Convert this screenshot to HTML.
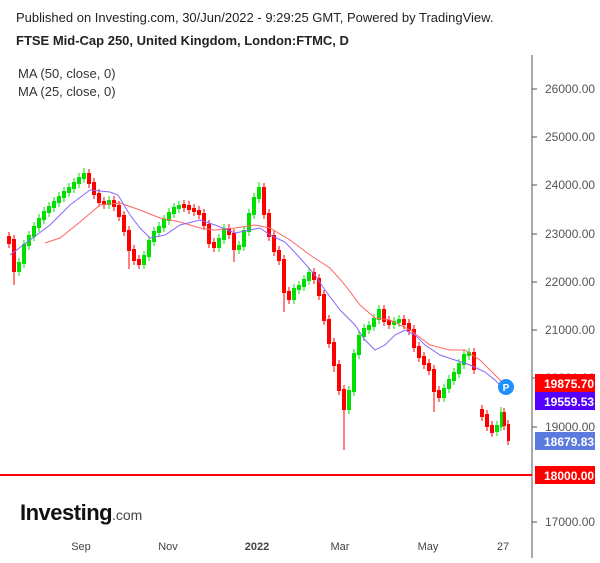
<!DOCTYPE html>
<html><head><meta charset="utf-8"><style>
body{margin:0;background:#fff;font-family:"Liberation Sans",sans-serif;}
</style></head><body>
<svg width="600" height="558" xmlns="http://www.w3.org/2000/svg" font-family="Liberation Sans, sans-serif">
<rect width="600" height="558" fill="#fff"/>
<text x="16" y="22" font-size="13" fill="#222">Published on Investing.com, 30/Jun/2022 - 9:29:25 GMT, Powered by TradingView.</text>
<text x="16" y="45" font-size="13" font-weight="bold" fill="#222">FTSE Mid-Cap 250, United Kingdom, London:FTMC, D</text>
<text x="18" y="78" font-size="13" fill="#333">MA (50, close, 0)</text>
<text x="18" y="96" font-size="13" fill="#333">MA (25, close, 0)</text>
<line x1="532" y1="55" x2="532" y2="558" stroke="#555" stroke-width="1"/>
<g font-size="12" fill="#555">
<text x="545" y="93">26000.00</text><text x="545" y="141">25000.00</text><text x="545" y="189">24000.00</text><text x="545" y="238">23000.00</text><text x="545" y="286">22000.00</text><text x="545" y="334">21000.00</text><text x="545" y="382">20000.00</text><text x="545" y="431">19000.00</text><text x="545" y="526">17000.00</text>
</g>
<path stroke="#555" d="M532 89h5M532 137h5M532 185h5M532 234h5M532 282h5M532 330h5M532 378h5M532 427h5M532 522h5"/>
<g fill="#f00">
<rect x="7" y="236" width="4" height="8"/><rect x="12" y="239" width="4" height="33"/><rect x="87" y="173" width="4" height="11"/><rect x="92" y="182" width="4" height="13"/><rect x="97" y="193" width="4" height="10"/><rect x="102" y="201" width="4" height="4"/><rect x="112" y="200" width="4" height="7"/><rect x="117" y="205" width="4" height="12"/><rect x="122" y="215" width="4" height="17"/><rect x="127" y="230" width="4" height="21"/><rect x="132" y="249" width="4" height="12"/><rect x="137" y="259" width="4" height="6"/><rect x="182" y="204" width="4" height="4"/><rect x="187" y="205" width="4" height="5"/><rect x="192" y="208" width="4" height="4"/><rect x="197" y="210" width="4" height="5"/><rect x="202" y="213" width="4" height="13"/><rect x="207" y="224" width="4" height="20"/><rect x="212" y="242" width="4" height="6"/><rect x="227" y="228" width="4" height="7"/><rect x="232" y="233" width="4" height="17"/><rect x="262" y="187" width="4" height="28"/><rect x="267" y="213" width="4" height="24"/><rect x="272" y="235" width="4" height="17"/><rect x="277" y="250" width="4" height="11"/><rect x="282" y="259" width="4" height="34"/><rect x="287" y="291" width="4" height="9"/><rect x="312" y="272" width="4" height="8"/><rect x="317" y="278" width="4" height="18"/><rect x="322" y="294" width="4" height="27"/><rect x="327" y="319" width="4" height="25"/><rect x="332" y="342" width="4" height="24"/><rect x="337" y="364" width="4" height="27"/><rect x="342" y="389" width="4" height="21"/><rect x="382" y="309" width="4" height="13"/><rect x="387" y="320" width="4" height="5"/><rect x="402" y="319" width="4" height="6"/><rect x="407" y="323" width="4" height="8"/><rect x="412" y="329" width="4" height="19"/><rect x="417" y="346" width="4" height="12"/><rect x="422" y="356" width="4" height="9"/><rect x="427" y="363" width="4" height="8"/><rect x="432" y="369" width="4" height="23"/><rect x="437" y="390" width="4" height="8"/><rect x="472" y="352" width="4" height="18"/><rect x="480" y="409" width="4" height="8"/><rect x="485" y="414" width="4" height="13"/><rect x="490" y="425" width="4" height="8"/><rect x="503" y="412" width="3" height="14"/><rect x="507" y="424" width="3" height="17"/>
</g>
<path fill="none" stroke="#f00" stroke-width="1" d="M9 232V248M14 235V285M89 169V188M94 178V199M99 189V207M104 197V209M114 196V211M119 201V221M124 211V236M129 226V269M134 245V265M139 255V269M184 200V212M189 201V214M194 204V216M199 206V219M204 209V230M209 220V248M214 238V252M229 224V239M234 229V262M264 183V219M269 209V241M274 231V256M279 246V265M284 255V312M289 287V304M314 268V284M319 274V300M324 290V325M329 315V348M334 338V372M339 360V395M344 385V450M384 305V326M389 316V329M404 315V329M409 319V335M414 325V352M419 342V362M424 352V369M429 359V375M434 365V412M439 386V402M474 348V374M482 405V421M487 410V431M492 421V437M504 408V430M508 420V445"/>
<g fill="#00e000">
<rect x="17" y="262" width="4" height="10"/><rect x="22" y="244" width="4" height="20"/><rect x="27" y="235" width="4" height="11"/><rect x="32" y="226" width="4" height="11"/><rect x="37" y="218" width="4" height="10"/><rect x="42" y="211" width="4" height="9"/><rect x="47" y="206" width="4" height="7"/><rect x="52" y="201" width="4" height="7"/><rect x="57" y="196" width="4" height="7"/><rect x="62" y="191" width="4" height="7"/><rect x="67" y="187" width="4" height="6"/><rect x="72" y="182" width="4" height="7"/><rect x="77" y="177" width="4" height="7"/><rect x="82" y="173" width="4" height="6"/><rect x="107" y="200" width="4" height="5"/><rect x="142" y="255" width="4" height="10"/><rect x="147" y="240" width="4" height="17"/><rect x="152" y="231" width="4" height="11"/><rect x="157" y="226" width="4" height="7"/><rect x="162" y="219" width="4" height="9"/><rect x="167" y="212" width="4" height="9"/><rect x="172" y="207" width="4" height="7"/><rect x="177" y="205" width="4" height="4"/><rect x="217" y="238" width="4" height="10"/><rect x="222" y="228" width="4" height="12"/><rect x="237" y="245" width="4" height="5"/><rect x="242" y="230" width="4" height="17"/><rect x="247" y="213" width="4" height="19"/><rect x="252" y="197" width="4" height="18"/><rect x="257" y="187" width="4" height="12"/><rect x="292" y="288" width="4" height="12"/><rect x="297" y="285" width="4" height="5"/><rect x="302" y="279" width="4" height="8"/><rect x="307" y="272" width="4" height="9"/><rect x="347" y="390" width="4" height="20"/><rect x="352" y="353" width="4" height="39"/><rect x="357" y="335" width="4" height="20"/><rect x="362" y="328" width="4" height="9"/><rect x="367" y="325" width="4" height="5"/><rect x="372" y="318" width="4" height="9"/><rect x="377" y="309" width="4" height="11"/><rect x="392" y="321" width="4" height="4"/><rect x="397" y="319" width="4" height="4"/><rect x="442" y="388" width="4" height="10"/><rect x="447" y="379" width="4" height="10"/><rect x="452" y="372" width="4" height="9"/><rect x="457" y="363" width="4" height="11"/><rect x="462" y="354" width="4" height="11"/><rect x="467" y="352" width="4" height="4"/><rect x="495" y="425" width="4" height="7"/><rect x="500" y="412" width="3" height="15"/>
</g>
<path fill="none" stroke="#00e000" stroke-width="1" d="M19 258V276M24 240V268M29 231V250M34 222V241M39 214V232M44 207V224M49 202V217M54 197V212M59 192V207M64 187V202M69 183V197M74 178V193M79 173V188M84 168V183M109 196V209M144 251V269M149 236V261M154 227V246M159 222V237M164 215V232M169 208V225M174 203V218M179 201V213M219 234V252M224 224V244M239 241V254M244 226V251M249 209V236M254 193V219M259 182V203M294 284V304M299 281V294M304 275V291M309 268V285M349 386V414M354 349V396M359 331V359M364 324V341M369 321V334M374 314V331M379 305V324M394 317V329M399 315V327M444 384V402M449 375V393M454 368V385M459 359V378M464 350V369M469 348V360M497 421V436M501 407V431"/>
<polyline fill="none" stroke="#f66" stroke-width="1" points="45,243 60,238 80,222 100,205 120,203 140,210 160,218 180,222 200,228 215,230 235,228 255,225 270,228 290,240 310,255 330,268 345,285 360,305 375,318 390,320 410,330 430,345 450,350 465,350 480,360 495,375 505,385"/>
<polyline fill="none" stroke="#8866ff" stroke-width="1" points="10,255 30,240 50,225 70,205 90,190 110,192 118,195 130,215 140,228 150,238 165,235 180,225 200,220 215,225 235,233 250,230 260,228 270,235 285,242 300,258 315,275 325,290 340,310 355,325 365,340 375,350 385,345 395,335 405,330 415,335 425,345 440,355 455,360 470,365 485,372 495,380 505,390"/>
<line x1="0" y1="475" x2="532" y2="475" stroke="#f00" stroke-width="2"/>
<circle cx="506" cy="387" r="8" fill="#1e90ff"/>
<text x="506" y="391" font-size="10" font-weight="bold" fill="#fff" text-anchor="middle">P</text>
<g font-size="12" font-weight="bold" fill="#fff">
<rect x="535" y="374" width="60" height="18" fill="#f00"/><text x="544" y="388">19875.70</text>
<rect x="535" y="392" width="60" height="18" fill="#5500ff"/><text x="544" y="406">19559.53</text>
<rect x="535" y="432" width="60" height="18" fill="#5b7be0"/><text x="544" y="446">18679.83</text>
<rect x="535" y="466" width="60" height="18" fill="#f00"/><text x="544" y="480">18000.00</text>
</g>
<g font-size="11" fill="#444" text-anchor="middle">
<text x="81" y="550">Sep</text><text x="168" y="550">Nov</text><text x="257" y="550" font-weight="bold">2022</text><text x="340" y="550">Mar</text><text x="428" y="550">May</text><text x="503" y="550">27</text>
</g>
<text x="20" y="520" font-size="22" font-weight="bold" fill="#111" letter-spacing="-0.5">Investing</text><text x="112" y="520" font-size="14" fill="#444">.com</text>
</svg>
</body></html>
